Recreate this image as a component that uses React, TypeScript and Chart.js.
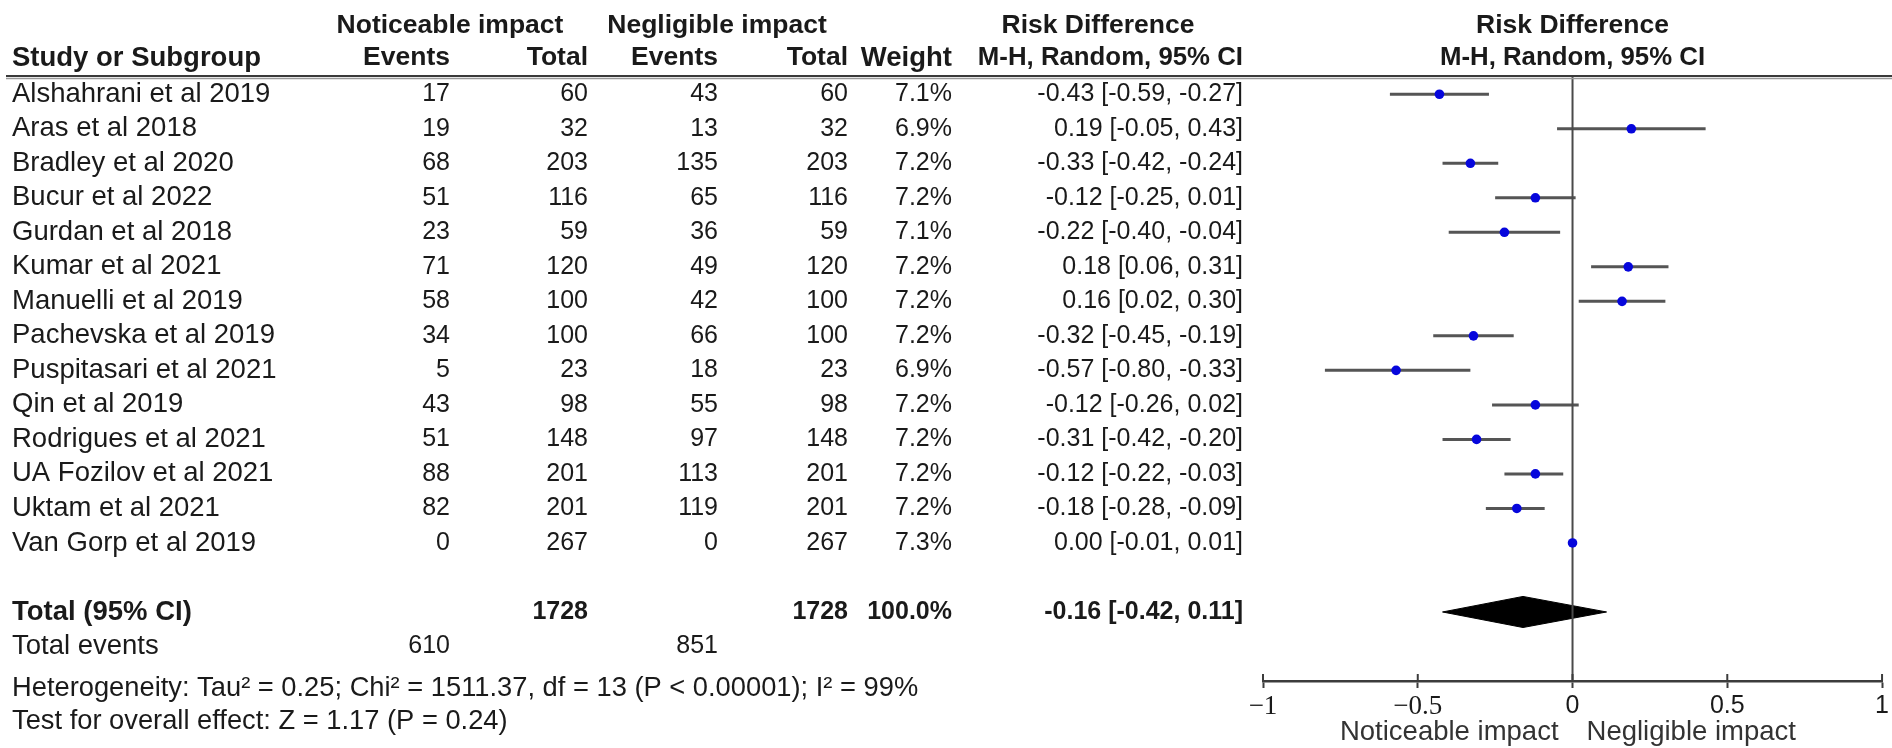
import React, { useEffect, useRef } from 'react';
import { Chart, registerables } from 'chart.js';

Chart.register(...registerables);

// ---------- data ----------
const studies = [
  'Alshahrani et al 2019',
  'Aras et al 2018',
  'Bradley et al 2020',
  'Bucur et al 2022',
  'Gurdan et al 2018',
  'Kumar et al 2021',
  'Manuelli et al 2019',
  'Pachevska et al 2019',
  'Puspitasari et al 2021',
  'Qin et al 2019',
  'Rodrigues et al 2021',
  'UA Fozilov et al 2021',
  'Uktam et al 2021',
  'Van Gorp et al 2019',
];
const noticeableEvents = [17, 19, 68, 51, 23, 71, 58, 34, 5, 43, 51, 88, 82, 0];
const noticeableTotal = [60, 32, 203, 116, 59, 120, 100, 100, 23, 98, 148, 201, 201, 267];
const negligibleEvents = [43, 13, 135, 65, 36, 49, 42, 66, 18, 55, 97, 113, 119, 0];
const negligibleTotal = [60, 32, 203, 116, 59, 120, 100, 100, 23, 98, 148, 201, 201, 267];
const weights = [7.1, 6.9, 7.2, 7.2, 7.1, 7.2, 7.2, 7.2, 6.9, 7.2, 7.2, 7.2, 7.2, 7.3];
const riskDiff = [-0.43, 0.19, -0.33, -0.12, -0.22, 0.18, 0.16, -0.32, -0.57, -0.12, -0.31, -0.12, -0.18, 0.0];
const ciLow = [-0.59, -0.05, -0.42, -0.25, -0.40, 0.06, 0.02, -0.45, -0.80, -0.26, -0.42, -0.22, -0.28, -0.01];
const ciHigh = [-0.27, 0.43, -0.24, 0.01, -0.04, 0.31, 0.30, -0.19, -0.33, 0.02, -0.20, -0.03, -0.09, 0.01];

const totalNoticeable = 1728;
const totalNegligible = 1728;
const totalWeight = 100.0;
const totalEventsNoticeable = 610;
const totalEventsNegligible = 851;
const overall = { rd: -0.16, lo: -0.42, hi: 0.11 };
const heterogeneityText = 'Heterogeneity: Tau\u00B2 = 0.25; Chi\u00B2 = 1511.37, df = 13 (P < 0.00001); I\u00B2 = 99%';
const overallEffectText = 'Test for overall effect: Z = 1.17 (P = 0.24)';
const xTicks = [-1, -0.5, 0, 0.5, 1];

// ---------- layout constants ----------
const W = 1892;
const H = 748;
const TOTAL_ROW = 15;
const EVENTS_ROW = 16;
const HET_ROW = 17.22;
const TEST_ROW = 18.17;
const Y_MIN = -0.5;
const Y_MAX = 17;
const DIAMOND_HALF = 0.45;

const COL_STUDY = 12;
const COL_E1 = 450;
const COL_T1 = 588;
const COL_E2 = 718;
const COL_T2 = 848;
const COL_W = 952;
const COL_CI = 1243;
const HEAD1_Y = 26;
const HEAD2_Y = 58;

const LABEL = 27.5; // word labels
const NUM = 25; // numeric cells
const HEAD = 26.5; // bold headers

const SANS = '"Liberation Sans", Arial, sans-serif';
const SERIF = '"Liberation Serif", "Times New Roman", serif';
const TEXT = '#1a1a1a';

const fmtCI = (rd: number, lo: number, hi: number) =>
  `${rd.toFixed(2)} [${lo.toFixed(2)}, ${hi.toFixed(2)}]`;

function txt(
  ctx: CanvasRenderingContext2D,
  s: string,
  x: number,
  y: number,
  align: CanvasTextAlign,
  bold = false,
  size = NUM,
  color = TEXT
) {
  ctx.font = `${bold ? 'bold ' : ''}${size}px ${SANS}`;
  ctx.textAlign = align;
  ctx.textBaseline = 'middle';
  ctx.fillStyle = color;
  ctx.fillText(s, x, y);
}

const tablePlugin = {
  id: 'forestTable',
  afterDraw(chart: any) {
    const ctx: CanvasRenderingContext2D = chart.ctx;
    const ys = chart.scales.y;
    const xs = chart.scales.x;
    const area = chart.chartArea;
    const zero = xs.getPixelForValue(0);
    ctx.save();

    // header
    txt(ctx, 'Noticeable impact', 450, HEAD1_Y, 'center', true, HEAD);
    txt(ctx, 'Negligible impact', 717, HEAD1_Y, 'center', true, HEAD);
    txt(ctx, 'Risk Difference', 1098, HEAD1_Y, 'center', true, HEAD);
    txt(ctx, 'Risk Difference', zero, HEAD1_Y, 'center', true, HEAD);
    txt(ctx, 'Study or Subgroup', COL_STUDY, HEAD2_Y, 'left', true, 27.5);
    txt(ctx, 'Events', COL_E1, HEAD2_Y, 'right', true, HEAD);
    txt(ctx, 'Total', COL_T1, HEAD2_Y, 'right', true, HEAD);
    txt(ctx, 'Events', COL_E2, HEAD2_Y, 'right', true, HEAD);
    txt(ctx, 'Total', COL_T2, HEAD2_Y, 'right', true, HEAD);
    txt(ctx, 'Weight', COL_W, HEAD2_Y, 'right', true, 27.5);
    txt(ctx, 'M-H, Random, 95% CI', COL_CI, HEAD2_Y, 'right', true, 25.8);
    txt(ctx, 'M-H, Random, 95% CI', zero, HEAD2_Y, 'center', true, 25.8);

    // double rule
    const top = area.top;
    ctx.strokeStyle = '#3a3a3a';
    ctx.lineWidth = 2;
    ctx.beginPath();
    ctx.moveTo(6, top - 1);
    ctx.lineTo(W, top - 1);
    ctx.stroke();
    ctx.strokeStyle = '#9a9a9a';
    ctx.lineWidth = 1.5;
    ctx.beginPath();
    ctx.moveTo(6, top + 1.5);
    ctx.lineTo(W, top + 1.5);
    ctx.stroke();

    // study rows
    studies.forEach((s, i) => {
      const y = ys.getPixelForValue(i);
      txt(ctx, s, COL_STUDY, y, 'left', false, LABEL);
      txt(ctx, String(noticeableEvents[i]), COL_E1, y, 'right');
      txt(ctx, String(noticeableTotal[i]), COL_T1, y, 'right');
      txt(ctx, String(negligibleEvents[i]), COL_E2, y, 'right');
      txt(ctx, String(negligibleTotal[i]), COL_T2, y, 'right');
      txt(ctx, weights[i].toFixed(1) + '%', COL_W, y, 'right');
      txt(ctx, fmtCI(riskDiff[i], ciLow[i], ciHigh[i]), COL_CI, y, 'right');
    });

    // totals
    const ty = ys.getPixelForValue(TOTAL_ROW);
    txt(ctx, 'Total (95% CI)', COL_STUDY, ty, 'left', true, 27.5);
    txt(ctx, String(totalNoticeable), COL_T1, ty, 'right', true);
    txt(ctx, String(totalNegligible), COL_T2, ty, 'right', true);
    txt(ctx, totalWeight.toFixed(1) + '%', COL_W, ty, 'right', true);
    txt(ctx, fmtCI(overall.rd, overall.lo, overall.hi), COL_CI, ty, 'right', true);

    const ey = ys.getPixelForValue(EVENTS_ROW);
    txt(ctx, 'Total events', COL_STUDY, ey, 'left', false, LABEL);
    txt(ctx, String(totalEventsNoticeable), COL_E1, ey, 'right');
    txt(ctx, String(totalEventsNegligible), COL_E2, ey, 'right');

    txt(ctx, heterogeneityText, COL_STUDY, ys.getPixelForValue(HET_ROW), 'left', false, 27.3);
    txt(ctx, overallEffectText, COL_STUDY, ys.getPixelForValue(TEST_ROW), 'left', false, 27.3);

    // tick marks above axis line
    ctx.strokeStyle = '#3c3c3c';
    ctx.lineWidth = 2;
    xs.ticks.forEach((t: any) => {
      const px = xs.getPixelForValue(t.value);
      ctx.beginPath();
      ctx.moveTo(px, area.bottom - 7);
      ctx.lineTo(px, area.bottom);
      ctx.stroke();
    });

    // direction labels
    txt(ctx, 'Noticeable impact', zero - 14, 732, 'right', false, 27.5, '#333');
    txt(ctx, 'Negligible impact', zero + 14, 732, 'left', false, 27.5, '#333');

    ctx.restore();
  },
};

export default function App() {
  const ref = useRef<HTMLCanvasElement>(null);

  useEffect(() => {
    if (!ref.current) return;

    const ciSets = studies.map((s, i) => ({
      type: 'line' as const,
      label: s,
      data: [
        { x: ciLow[i], y: i },
        { x: ciHigh[i], y: i },
      ],
      borderColor: '#555555',
      borderWidth: 3,
      pointRadius: 0,
      showLine: true,
      fill: false,
      order: 3,
    }));

    const diamondTop = {
      type: 'line' as const,
      label: 'overall-top',
      data: [
        { x: overall.lo, y: TOTAL_ROW },
        { x: overall.rd, y: TOTAL_ROW - DIAMOND_HALF },
        { x: overall.hi, y: TOTAL_ROW },
      ],
      borderColor: '#000',
      backgroundColor: '#000',
      borderWidth: 1,
      pointRadius: 0,
      fill: { value: TOTAL_ROW },
      order: 2,
    };
    const diamondBottom = {
      ...diamondTop,
      label: 'overall-bottom',
      data: [
        { x: overall.lo, y: TOTAL_ROW },
        { x: overall.rd, y: TOTAL_ROW + DIAMOND_HALF },
        { x: overall.hi, y: TOTAL_ROW },
      ],
    };

    const zeroLine = {
      type: 'line' as const,
      label: 'no effect',
      data: [
        { x: 0, y: Y_MIN },
        { x: 0, y: Y_MAX },
      ],
      borderColor: '#4a4a4a',
      borderWidth: 2,
      pointRadius: 0,
      fill: false,
      order: 1,
    };

    const pointSet = {
      type: 'line' as const,
      label: 'Risk difference',
      data: riskDiff.map((v, i) => ({ x: v, y: i })),
      showLine: false,
      pointRadius: 4.8,
      pointBorderWidth: 0,
      pointBackgroundColor: '#0606dc',
      pointBorderColor: '#0606dc',
      order: 0,
    };

    const chart = new Chart(ref.current, {
      type: 'line',
      data: { datasets: [...ciSets, diamondTop, diamondBottom, zeroLine, pointSet] as any },
      options: {
        responsive: false,
        animation: false,
        events: [],
        layout: { padding: { left: 1263, right: 8, top: 77, bottom: 27 } },
        plugins: {
          legend: { display: false },
          tooltip: { enabled: false },
          title: { display: false },
        },
        scales: {
          x: {
            type: 'linear',
            min: -1,
            max: 1,
            afterBuildTicks: (scale: any) => {
              scale.ticks = xTicks.map((v) => ({ value: v }));
            },
            afterFit: (scale: any) => {
              scale.height = 40;
            },
            border: { display: true, color: '#3c3c3c', width: 2.5 },
            grid: {
              drawOnChartArea: false,
              drawTicks: true,
              tickLength: 7,
              tickColor: '#3c3c3c',
              tickWidth: 2,
            },
            ticks: {
              padding: 3,
              maxRotation: 0,
              autoSkip: false,
              color: '#1a1a1a',
              font: (c: any) =>
                c.tick && c.tick.value < 0
                  ? { family: SERIF, size: 27 }
                  : { family: SANS, size: 25 },
              callback: (v: any) => (Number(v) < 0 ? '\u2212' + Math.abs(Number(v)) : String(v)),
            },
          },
          y: {
            type: 'linear',
            reverse: true,
            min: Y_MIN,
            max: Y_MAX,
            display: false,
          },
        },
      } as any,
      plugins: [tablePlugin],
    });

    return () => chart.destroy();
  }, []);

  return (
    <div style={{ position: 'fixed', left: 0, top: 0, width: W, height: H, background: '#fff' }}>
      <canvas ref={ref} width={W} height={H} style={{ display: 'block', width: W, height: H }} />
    </div>
  );
}
